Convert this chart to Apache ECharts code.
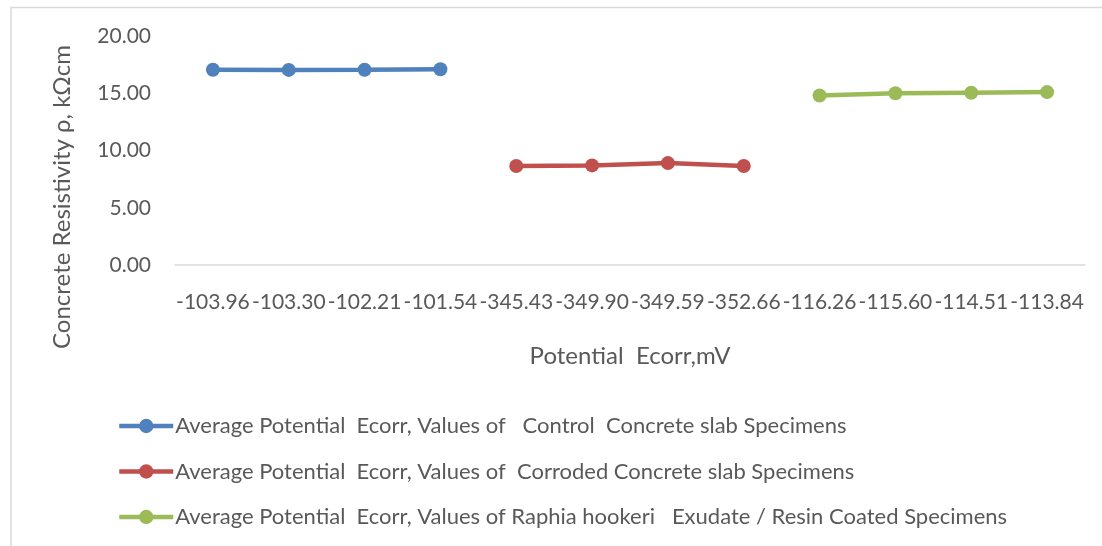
<!DOCTYPE html>
<html>
<head>
<meta charset="utf-8">
<title>Concrete Resistivity vs Potential Ecorr</title>
<script src="https://cdn.jsdelivr.net/npm/echarts@6/dist/echarts.min.js"></script>
<style>
  html, body { margin: 0; padding: 0; background: #ffffff; }
  #chart { width: 1102px; height: 546px; }
</style>
</head>
<body>
<div id="chart"></div>
<script>
// Potential Ecorr (mV) readings used as category labels
const categories = [
  '-103.96', '-103.30', '-102.21', '-101.54',
  '-345.43', '-349.90', '-349.59', '-352.66',
  '-116.26', '-115.60', '-114.51', '-113.84'
];

// Resistivity (kΩcm) for each specimen group
const controlValues  = [17.05, 17.04, 17.05, 17.10];
const corrodedValues = [8.65, 8.70, 8.90, 8.65];
const coatedValues   = [14.80, 15.00, 15.05, 15.10];

const seriesNames = [
  'Average Potential  Ecorr, Values of   Control  Concrete slab Specimens',
  'Average Potential  Ecorr, Values of  Corroded Concrete slab Specimens',
  'Average Potential  Ecorr, Values of Raphia hookeri   Exudate / Resin Coated Specimens'
];

const yTicks = { min: 0, max: 20, interval: 5 };

const colors = ['#4F81BD', '#C0504D', '#9BBB59'];
const textColor = '#595959';
const fontFamily = 'Lato, "Liberation Sans", sans-serif';

// Each group occupies its own block of four categories
function placeGroup(values, startIndex) {
  const row = categories.map(() => null);
  values.forEach((v, i) => { row[startIndex + i] = v; });
  return row;
}

const groups = [
  placeGroup(controlValues, 0),
  placeGroup(corrodedValues, 4),
  placeGroup(coatedValues, 8)
];

const chart = echarts.init(document.getElementById('chart'), null, { renderer: 'canvas' });

chart.setOption({
  animation: false,
  backgroundColor: '#ffffff',
  color: colors,
  textStyle: { fontFamily: fontFamily, color: textColor },
  grid: { left: 175, right: 17, top: 36, bottom: 281, containLabel: false },
  xAxis: {
    type: 'category',
    data: categories,
    boundaryGap: true,
    axisLine: { show: true, lineStyle: { color: '#D9D9D9', width: 1.5 } },
    axisTick: { show: false },
    axisLabel: {
      interval: 0,
      margin: 27,
      color: textColor,
      fontSize: 21,
      fontFamily: fontFamily
    },
    name: 'Potential  Ecorr,mV',
    nameLocation: 'middle',
    nameGap: 79,
    nameTextStyle: { color: textColor, fontSize: 24, fontFamily: fontFamily }
  },
  yAxis: {
    type: 'value',
    min: yTicks.min,
    max: yTicks.max,
    interval: yTicks.interval,
    axisLine: { show: false },
    axisTick: { show: false },
    splitLine: { show: false },
    axisLabel: {
      margin: 24,
      color: textColor,
      fontSize: 21,
      fontFamily: fontFamily,
      formatter: v => v.toFixed(2)
    }
  },
  legend: {
    orient: 'vertical',
    left: 117,
    top: 414,
    padding: 0,
    itemWidth: 54,
    itemHeight: 18,
    itemGap: 21.5,
    lineStyle: { width: 4.5 },
    textStyle: { color: textColor, fontSize: 22, lineHeight: 24, fontFamily: fontFamily, padding: [0, 0, 0, -3] },
    data: seriesNames
  },
  graphic: [
    {
      type: 'rect',
      silent: true,
      shape: { x: 11, y: 7.5, width: 1200, height: 700 },
      style: { fill: 'none', stroke: '#D9D9D9', lineWidth: 1.5 }
    },
    {
      type: 'text',
      silent: true,
      x: 62,
      y: 197,
      rotation: Math.PI / 2,
      style: {
        text: 'Concrete Resistivity ρ, kΩcm',
        fill: textColor,
        font: '24px ' + fontFamily,
        align: 'center',
        verticalAlign: 'middle'
      }
    }
  ],
  series: groups.map((data, i) => ({
    name: seriesNames[i],
    type: 'line',
    data: data,
    connectNulls: false,
    symbol: 'circle',
    symbolSize: 14,
    showSymbol: true,
    lineStyle: { width: 4.5, color: colors[i] },
    itemStyle: { color: colors[i] }
  }))
});
</script>
</body>
</html>
